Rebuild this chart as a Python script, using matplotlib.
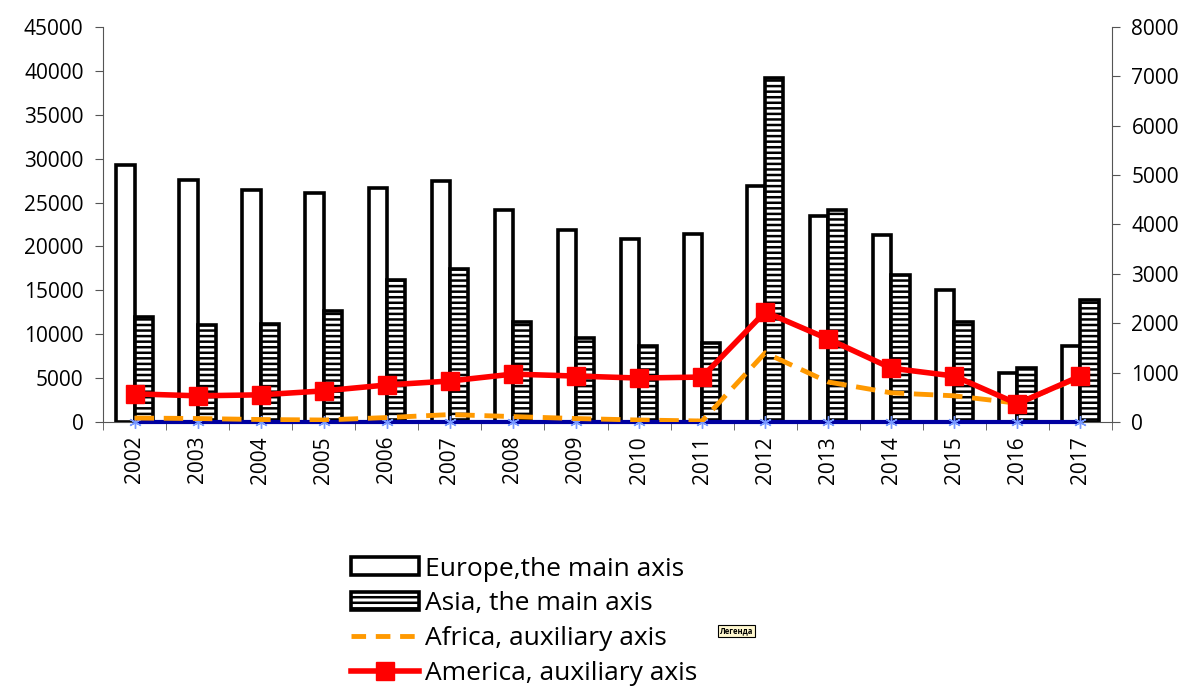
import matplotlib
matplotlib.use("Agg")
import matplotlib.pyplot as plt
import numpy as np
from matplotlib.patches import Patch
from matplotlib.lines import Line2D

plt.rcParams['font.family'] = ['Open Sans', 'DejaVu Sans']
plt.rcParams['hatch.linewidth'] = 1.8

years = ["2002", "2003", "2004", "2005", "2006", "2007", "2008", "2009",
         "2010", "2011", "2012", "2013", "2014", "2015", "2016", "2017"]
europe = [29300, 27600, 26400, 26100, 26700, 27400, 24100, 21900,
          20800, 21400, 26900, 23500, 21300, 15000, 5600, 8700]
asia = [12000, 11000, 11200, 12600, 16200, 17400, 11400, 9600,
        8600, 9000, 39200, 24200, 16800, 11400, 6100, 13900]
africa = [80, 70, 50, 40, 90, 150, 110, 70,
          40, 20, 1400, 810, 590, 530, 380, 910]
america = [570, 530, 550, 630, 750, 830, 970, 930,
           890, 910, 2230, 1680, 1090, 930, 370, 930]
other = [0] * 16

labels = ["Europe,the main axis", "Asia, the main axis",
          "Africa, auxiliary axis", "America, auxiliary axis"]

fig = plt.figure(figsize=(11.94, 6.91), dpi=100)
ax = fig.add_axes([0.0863, 0.3893, 0.845, 0.5717])
x = np.arange(len(years))
w = 0.29
ax.bar(x - w / 2, europe, width=w, color='white', edgecolor='black', linewidth=2.6, zorder=2)
ax.bar(x + w / 2, asia, width=w, color='white', edgecolor='black', linewidth=2.6,
       hatch='---', zorder=2)
ax.set_ylim(0, 45000)
ax.set_yticks(np.arange(0, 45001, 5000))
ax.set_xlim(-0.5, len(years) - 0.5)
ax.set_xticks(x)
ax.set_xticklabels(years, rotation=90, fontsize=15)
ax.set_xticks(np.arange(-0.5, len(years), 1), minor=True)
ax.tick_params(axis='x', which='major', length=0, pad=10)
ax.tick_params(axis='x', which='minor', length=6, color='#555555')
ax.tick_params(axis='y', labelsize=15, length=6, color='#555555', pad=8)
ax.spines['top'].set_visible(False)
ax.spines['left'].set_color('#555555')
ax.spines['right'].set_visible(False)
ax.spines['bottom'].set_color('#555555')

ax2 = ax.twinx()
ax2.set_ylim(0, 8000)
ax2.set_yticks(np.arange(0, 8001, 1000))
ax2.tick_params(axis='y', labelsize=15, length=6, color='#555555', pad=8)
ax2.spines['top'].set_visible(False)
ax2.spines['left'].set_visible(False)
ax2.spines['right'].set_color('#555555')
ax2.spines['bottom'].set_visible(False)
ax2.plot(x, other, color='#0000A0', linewidth=3, marker=(6, 2, 0),
         markersize=9, markeredgecolor='#7799ff', markeredgewidth=1.0,
         zorder=3, clip_on=False)
ax2.plot(x, africa, color='#FF9900', linewidth=3.5, linestyle=(0, (4, 2)), zorder=4)
ax2.plot(x, america, color='#FF0000', linewidth=4, marker='s', markersize=13, zorder=5)
ax2.set_xlim(-0.5, len(years) - 0.5)

handles = [
    Patch(facecolor='white', edgecolor='black', linewidth=2.6),
    Patch(facecolor='white', edgecolor='black', linewidth=2.6, hatch='---'),
    Line2D([0], [0], color='#FF9900', linewidth=3.5, linestyle=(0, (3, 2))),
    Line2D([0], [0], color='#FF0000', linewidth=4, marker='s', markersize=13),
]
fig.legend(handles, labels, loc='upper left', bbox_to_anchor=(0.285, 1 - 546 / 691),
           frameon=False, fontsize=19, handlelength=2.6, handleheight=0.65,
           labelspacing=0.37, handletextpad=0.2, borderaxespad=0)

fig.text(720 / 1194, 1 - 631 / 691, "Легенда", fontsize=5.5, fontweight='bold',
         va='center', ha='left',
         bbox=dict(facecolor='#fff8d0', edgecolor='black', linewidth=0.8, pad=1.2))

fig.savefig("out.png", dpi=100)
